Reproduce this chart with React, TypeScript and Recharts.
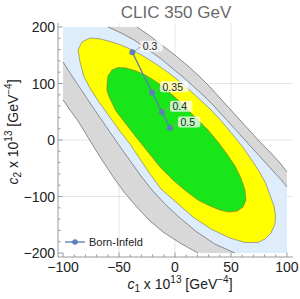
import { ScatterChart, Scatter, XAxis, YAxis, ReferenceLine } from "recharts";

type Pt = [number, number];

// confidence contours in (c1, c2)
const green68: Pt[] = [
  [-60.7, 99.1], [-59.8, 113.3], [-56.3, 123.9], [-50.9, 128.3], [-43.8, 127.4], [-34.8, 122.1],
  [-25.0, 113.3], [-15.2, 100.9], [-6.3, 86.7], [2.7, 70.8], [11.6, 53.1], [20.5, 35.4],
  [29.5, 17.7], [38.4, -3.5], [46.4, -24.8], [53.6, -46.0], [58.9, -67.3], [62.5, -88.5],
  [63.4, -106.2], [60.7, -118.6], [55.4, -125.7], [48.2, -127.4], [40.2, -123.9], [31.3, -116.8],
  [20.5, -106.2], [9.8, -90.3], [-1.8, -70.8], [-13.4, -47.8], [-24.1, -21.2], [-34.8, 5.3],
  [-43.8, 28.3], [-52.7, 51.3], [-58.0, 72.6], [-60.7, 86.7],
];

const yellow90: Pt[] = [
  [-86.6, 159.3], [-83.0, 173.5], [-75.9, 180.5], [-67.0, 178.8], [-58.0, 174.3], [-48.2, 168.1],
  [-39.3, 160.2], [-28.6, 148.7], [-17.0, 134.5], [-5.4, 118.6], [6.3, 100.0], [17.9, 79.6],
  [29.5, 58.4], [40.2, 36.3], [50.0, 13.3], [59.8, -10.6], [67.9, -33.6], [75.0, -54.9],
  [81.3, -77.9], [84.8, -97.3], [88.4, -116.8], [89.7, -132.7], [89.3, -148.7], [85.7, -164.6],
  [80.4, -175.2], [74.1, -181.4], [62.5, -181.4], [49.1, -173.5], [32.1, -157.5], [16.1, -136.3],
  [1.8, -111.5], [-12.5, -86.7], [-22.3, -60.2], [-31.3, -33.6], [-40.2, -7.1], [-50.0, 17.7],
  [-58.9, 42.5], [-67.9, 67.3], [-75.0, 88.5], [-81.3, 111.5], [-84.8, 138.1],
];

// the two outer contours leave the plot range: upper-right and lower-left arcs
const blue95Upper: Pt[] = [
  [-59.8, 200], [-48.2, 189.4], [-36.6, 177.0], [-25.0, 161.1], [-13.4, 145.1], [-2.7, 127.4],
  [7.1, 111.5], [17.0, 93.8], [25.9, 77.9], [34.8, 60.2], [43.8, 40.7], [52.7, 21.2],
  [61.6, 1.8], [70.5, -17.7], [79.5, -37.2], [88.4, -56.6], [94.6, -69.9], [100, -83.2],
];
const blue95Lower: Pt[] = [
  [53.6, -200], [35.7, -184.1], [19.6, -162.8], [4.5, -138.1], [-8.9, -113.3], [-20.5, -88.5],
  [-30.4, -63.7], [-39.3, -38.9], [-48.2, -14.2], [-56.3, 8.8], [-64.3, 31.9], [-72.3, 54.9],
  [-79.5, 76.1], [-86.6, 97.3], [-93.8, 118.6], [-100, 138.1],
];
const gray99Upper: Pt[] = [
  [-33.9, 200], [-22.3, 184.1], [-10.7, 166.4], [0.9, 148.7], [11.6, 131.0], [21.4, 113.3],
  [31.3, 93.8], [40.2, 74.3], [49.1, 54.9], [58.0, 35.4], [67.0, 15.9], [75.9, -3.5],
  [84.8, -21.2], [93.8, -40.7], [100, -56.6],
];
const gray99Lower: Pt[] = [
  [20.5, -200], [4.5, -182.3], [-10.7, -162.8], [-24.1, -139.8], [-35.7, -115.0], [-45.5, -92.0],
  [-54.5, -67.3], [-63.4, -40.7], [-71.4, -15.9], [-79.5, 10.6], [-86.6, 33.6], [-93.8, 53.1],
  [-100, 70.8],
];

const rangeTopLeft: Pt = [-100, 200];
const rangeBottomRight: Pt = [100, -200];

// Born-Infeld points
const biLabels = ["0.3", "0.35", "0.4", "0.5"];
const biC1 = [-38.1, -20.5, -11.6, -4.5];
const biC2 = [155.2, 83.7, 49.0, 21.2];

const xTicks = [-100, -90, -80, -70, -60, -50, -40, -30, -20, -10, 0, 10, 20, 30, 40, 50, 60, 70, 80, 90, 100];
const xMajor = [-100, -50, 0, 50, 100];
const yTicks = [-200, -180, -160, -140, -120, -100, -80, -60, -40, -20, 0, 20, 40, 60, 80, 100, 120, 140, 160, 180, 200];
const yMajor = [-200, -100, 0, 100, 200];
const xGrid = [-50, 0, 50];
const yGrid = [-100, 0, 100];

const frame = "#9a9a9a";
const biColor = "#5E81B5";
const font = "'Liberation Sans', Arial, sans-serif";

const toXY = (pts: Pt[]) => pts.map(([x, y]) => ({ x, y }));
const closed = (pts: Pt[]) => toXY([...pts, pts[0]]);

const grayFill = closed([rangeTopLeft, ...gray99Upper, rangeBottomRight, ...gray99Lower]);
const blueFill = closed([rangeTopLeft, ...blue95Upper, rangeBottomRight, ...blue95Lower]);
const biData = biLabels.map((label, i) => ({ x: biC1[i], y: biC2[i], label }));

const fmt = (v: number) => (v < 0 ? `\u2212${-v}` : `${v}`);
const noDot = () => <g />;

function BottomTick({ x, y, payload }: any) {
  const major = xMajor.includes(payload.value);
  return (
    <g>
      <line x1={x} x2={x} y1={y} y2={y - (major ? 4.5 : 2.5)} stroke={frame} />
      {major && (
        <text x={x} y={y + 15} textAnchor="middle" fontSize={14} fill="#222" fontFamily={font}>
          {fmt(payload.value)}
        </text>
      )}
    </g>
  );
}

function TopTick({ x, y, payload }: any) {
  const major = xMajor.includes(payload.value);
  return <line x1={x} x2={x} y1={y} y2={y + (major ? 4.5 : 2.5)} stroke={frame} />;
}

function LeftTick({ x, y, payload }: any) {
  const major = yMajor.includes(payload.value);
  return (
    <g>
      <line x1={x} x2={x + (major ? 4.5 : 2.5)} y1={y} y2={y} stroke={frame} />
      {major && (
        <text x={x - 3} y={y} dy="0.36em" textAnchor="end" fontSize={14} fill="#222" fontFamily={font}>
          {fmt(payload.value)}
        </text>
      )}
    </g>
  );
}

function RightTick({ x, y, payload }: any) {
  const major = yMajor.includes(payload.value);
  return <line x1={x} x2={x - (major ? 4.5 : 2.5)} y1={y} y2={y} stroke={frame} />;
}

function BIPoint({ cx, cy, payload }: any) {
  const w = payload.label.length * 5.8 + 5;
  return (
    <g>
      <path
        d={`M${cx + 2},${cy - 1} C${cx + 4},${cy - 1} ${cx + 5},${cy - 5} ${cx + 8.5},${cy - 5}`}
        stroke="#a0a0a0"
        fill="none"
      />
      <rect x={cx + 8} y={cy - 11.5} width={w} height={11} rx={2} fill="rgba(255,255,255,0.72)" />
      <text x={cx + 10.5} y={cy - 2} fontSize={10.5} fill="#222" fontFamily={font}>
        {payload.label}
      </text>
      <circle cx={cx} cy={cy} r={3} fill={biColor} />
    </g>
  );
}

export default function App() {
  return (
    <div style={{ position: "absolute", left: 0, top: 0, width: 300, height: 299, background: "#fff", fontFamily: font }}>
      <ScatterChart width={300} height={299} margin={{ top: 23, right: 7, bottom: 0, left: 0 }}>
        <XAxis
          type="number"
          dataKey="x"
          domain={[-104.5, 105.4]}
          allowDataOverflow
          ticks={xTicks}
          interval={0}
          tickSize={0}
          tickMargin={0}
          tickLine={false}
          height={42}
          axisLine={{ stroke: frame }}
          tick={BottomTick}
        />
        <XAxis
          xAxisId="t"
          orientation="top"
          type="number"
          domain={[-104.5, 105.4]}
          allowDataOverflow
          ticks={xTicks}
          interval={0}
          tickSize={0}
          tickMargin={0}
          tickLine={false}
          height={0}
          axisLine={{ stroke: frame }}
          tick={TopTick}
        />
        <YAxis
          type="number"
          dataKey="y"
          domain={[-207, 207]}
          allowDataOverflow
          ticks={yTicks}
          interval={0}
          tickSize={0}
          tickMargin={0}
          tickLine={false}
          width={58}
          axisLine={{ stroke: frame }}
          tick={LeftTick}
        />
        <YAxis
          yAxisId="r"
          orientation="right"
          type="number"
          domain={[-207, 207]}
          allowDataOverflow
          ticks={yTicks}
          interval={0}
          tickSize={0}
          tickMargin={0}
          tickLine={false}
          width={0}
          axisLine={{ stroke: frame }}
          tick={RightTick}
        />

        <Scatter data={grayFill} shape={noDot} line={{ fill: "#d8d8d8", stroke: "none" }} isAnimationActive={false} />
        <Scatter data={blueFill} shape={noDot} line={{ fill: "#deedfc", stroke: "none" }} isAnimationActive={false} />
        <Scatter data={toXY(gray99Upper)} shape={noDot} line={{ stroke: "#747474", strokeWidth: 0.8, fill: "none" }} isAnimationActive={false} />
        <Scatter data={toXY(gray99Lower)} shape={noDot} line={{ stroke: "#747474", strokeWidth: 0.8, fill: "none" }} isAnimationActive={false} />
        <Scatter data={toXY(blue95Upper)} shape={noDot} line={{ stroke: "#747474", strokeWidth: 0.8, fill: "none" }} isAnimationActive={false} />
        <Scatter data={toXY(blue95Lower)} shape={noDot} line={{ stroke: "#747474", strokeWidth: 0.8, fill: "none" }} isAnimationActive={false} />
        <Scatter data={closed(yellow90)} shape={noDot} line={{ fill: "#ffff00", stroke: "#8e8e80", strokeWidth: 0.8 }} isAnimationActive={false} />
        <Scatter data={closed(green68)} shape={noDot} line={{ fill: "#19e619", stroke: "#8f8a25", strokeWidth: 0.8 }} isAnimationActive={false} />

        {xGrid.map((v) => (
          <ReferenceLine key={`gx${v}`} x={v} stroke="#000" strokeOpacity={0.1} />
        ))}
        {yGrid.map((v) => (
          <ReferenceLine key={`gy${v}`} y={v} stroke="#000" strokeOpacity={0.1} />
        ))}

        <Scatter data={biData} shape={BIPoint} line={{ stroke: biColor, strokeWidth: 1.4 }} isAnimationActive={false} />
      </ScatterChart>

      <svg width={300} height={299} style={{ position: "absolute", left: 0, top: 0, pointerEvents: "none" }}>
        <text x={176} y={18} textAnchor="middle" fontSize={17} fill="#6a6a6a" fontFamily={font}>
          CLIC 350 GeV
        </text>
        <text x={180} y={289} textAnchor="middle" fontSize={14} fill="#222" fontFamily={font}>
          <tspan fontStyle="italic">c</tspan>
          <tspan dy={3} fontSize={10}>1</tspan>
          <tspan dy={-3}> x 10</tspan>
          <tspan dy={-6} fontSize={10}>13</tspan>
          <tspan dy={6}> [GeV</tspan>
          <tspan dy={-6} fontSize={10}>{"\u22124"}</tspan>
          <tspan dy={6}>]</tspan>
        </text>
        <text transform="rotate(-90)" x={-132} y={18} textAnchor="middle" fontSize={14} fill="#222" fontFamily={font}>
          <tspan fontStyle="italic">c</tspan>
          <tspan dy={3} fontSize={10}>2</tspan>
          <tspan dy={-3}> x 10</tspan>
          <tspan dy={-6} fontSize={10}>13</tspan>
          <tspan dy={6}> [GeV</tspan>
          <tspan dy={-6} fontSize={10}>{"\u22124"}</tspan>
          <tspan dy={6}>]</tspan>
        </text>
      </svg>

      <div
        style={{
          position: "absolute",
          left: 64,
          top: 236,
          display: "flex",
          alignItems: "center",
          fontSize: 11,
          color: "#222",
          lineHeight: "12px",
        }}
      >
        <svg width={22} height={8} style={{ marginRight: 3 }}>
          <line x1={1} x2={21} y1={4} y2={4} stroke={biColor} strokeWidth={1.4} />
          <circle cx={11} cy={4} r={2.8} fill={biColor} />
        </svg>
        <span>Born-Infeld</span>
      </div>
    </div>
  );
}
